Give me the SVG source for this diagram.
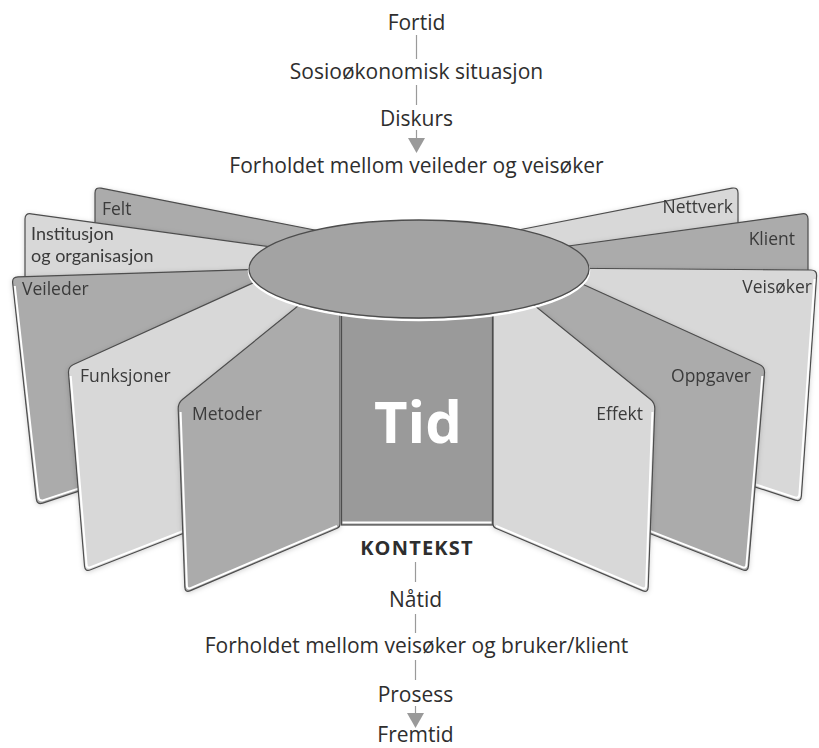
<svg xmlns="http://www.w3.org/2000/svg" width="819" height="748" viewBox="0 0 819 748">
<defs>
<filter id="sh" x="-10%" y="-10%" width="120%" height="120%">
<feDropShadow dx="0" dy="1" stdDeviation="2.5" flood-color="#000" flood-opacity="0.18"/>
</filter>
<style>
.dark{fill:#ababab;stroke:#4d4d4d;stroke-width:1.2;stroke-linejoin:round}
.light{fill:#d8d8d8;stroke:#4d4d4d;stroke-width:1.2;stroke-linejoin:round}
.hl{fill:none;stroke:#ffffff;stroke-width:2;stroke-linejoin:round}
.lbl{font-family:"Open Sans","Noto Sans",sans-serif;font-size:17.5px;fill:#3a3a3a}
.lbl2{font-family:Lato,"Open Sans",sans-serif;font-size:18px;fill:#3a3a3a}
.chain{font-family:"Open Sans","Noto Sans",sans-serif;font-size:21px;fill:#2e2e2e;text-anchor:middle}
.conn{stroke:#9a9a9a;stroke-width:1.2;fill:none}
.arr{fill:#9a9a9a}
</style>
</defs>
<rect width="819" height="748" fill="#ffffff"/>

<g id="felt" filter="url(#sh)">
<path class="dark" d="M101,188.2 L330,233 L330,280 L95,280 L95,193 Q95,187 101,188.2 Z"/>
<text class="lbl" x="102" y="215">Felt</text>
</g>
<g id="nettverk" filter="url(#sh)">
<path class="light" d="M732,188.2 L503,233 L503,280 L738,280 L738,193 Q738,187 732,188.2 Z"/>
<text class="lbl" x="733" y="213" text-anchor="end">Nettverk</text>
</g>
<g id="institusjon" filter="url(#sh)">
<path class="light" d="M31,213.8 L330,255 L330,300 L25,300 L25,219 Q25,213 31,213.8 Z"/>
<text class="lbl2" x="31" y="240">Institusjon</text>
<text class="lbl2" x="31" y="262">og organisasjon</text>
</g>
<g id="klient" filter="url(#sh)">
<path class="dark" d="M802,213.8 L503,255 L503,300 L808,300 L808,219 Q808,213 802,213.8 Z"/>
<text class="lbl" x="795" y="245" text-anchor="end">Klient</text>
</g>
<g id="veileder" filter="url(#sh)">
<path class="dark" d="M18,276.8 L300,268 L300,418 L42.7,503.1 Q37,505 36.3,499 L12.65,283 Q12,277 18,276.8 Z"/>
<path class="hl" d="M14.8,286 L38.3,497 Q39,500.5 42,500.6 L300,415.5"/>
<text class="lbl" x="22" y="295">Veileder</text>
</g>
<g id="veisoker" filter="url(#sh)">
<path class="light" d="M811,270 L533,268 L533,414 L795.3,500.1 Q801,502 801.4,496 L816.6,276 Q817,270 811,270 Z"/>
<path class="hl" d="M814.5,279 L799.4,495 Q799,498 795.8,497.6 L533,411.5"/>
<text class="lbl" x="812" y="293" text-anchor="end">Veisøker</text>
</g>
<g id="funksjoner" filter="url(#sh)">
<path class="light" d="M73.5,364.5 L330,248 L330,476 L90.6,569.8 Q85,572 84.5,566 L68.5,373 Q68,367 73.5,364.5 Z"/>
<path class="hl" d="M70.7,376 L86.6,565 Q87,568 90,567.4 L330,473.5"/>
<text class="lbl" x="80" y="382">Funksjoner</text>
</g>
<g id="oppgaver" filter="url(#sh)">
<path class="dark" d="M759.5,364.5 L503,248 L503,476 L742.4,569.8 Q748,572 748.5,566 L764.5,373 Q765,367 759.5,364.5 Z"/>
<path class="hl" d="M762.3,376 L746.4,565 Q746,568 743,567.4 L503,473.5"/>
<text class="lbl" x="751" y="382" text-anchor="end">Oppgaver</text>
</g>
<g id="metoder" filter="url(#sh)">
<path class="dark" d="M182.7,399.2 L340,272 L340,524 Q340,527 337.2,528.2 L190.5,590.6 Q185,593 184.8,587 L178.2,409 Q178,403 182.7,399.2 Z"/>
<path class="hl" d="M180.6,412 L186.9,586 Q187.4,589 190,588.3 L337,525.8"/>
<text class="lbl" x="192" y="420">Metoder</text>
</g>
<g id="effekt" filter="url(#sh)">
<path class="light" d="M650.3,399.2 L493,272 L493,524 Q493,527 495.8,528.2 L642.5,590.6 Q648,593 648.2,587 L654.8,409 Q655,403 650.3,399.2 Z"/>
<path class="hl" d="M652.4,412 L646.1,586 Q645.6,589 643,588.3 L496,525.8"/>
<text class="lbl" x="643" y="420" text-anchor="end">Effekt</text>
</g>
<g id="tid">
<rect x="341.5" y="260" width="151" height="265" fill="#9a9a9a" stroke="#4d4d4d" stroke-width="1.2"/>
<line x1="342.5" y1="522.5" x2="491.5" y2="522.5" stroke="#ffffff" stroke-width="2"/>
<text x="418" y="443" text-anchor="middle" font-family="'Open Sans','Noto Sans',sans-serif" font-weight="bold" font-size="58" fill="#ffffff">Tid</text>
</g>
<g id="ellipse">
<ellipse cx="419" cy="271" rx="170" ry="49" fill="none" stroke="#ffffff" stroke-width="2.5"/>
<ellipse cx="419" cy="269" rx="170" ry="49" fill="#a3a3a3" stroke="#4d4d4d" stroke-width="1.3"/>
</g>

<g id="connectors">
<line class="conn" x1="416.5" y1="35" x2="416.5" y2="59"/>
<line class="conn" x1="416.5" y1="85" x2="416.5" y2="105"/>
<line class="conn" x1="416.5" y1="130" x2="416.5" y2="139"/>
<polygon class="arr" points="408,138 425,138 416.5,153"/>
<line class="conn" x1="415.5" y1="562" x2="415.5" y2="582"/>
<line class="conn" x1="415.5" y1="614" x2="415.5" y2="633"/>
<line class="conn" x1="415.5" y1="660" x2="415.5" y2="680"/>
<line class="conn" x1="415.5" y1="706" x2="415.5" y2="714"/>
<polygon class="arr" points="407,713 424,713 415.5,728"/>
</g>

<g id="fortid"><text class="chain" x="416.5" y="30">Fortid</text></g>
<g id="sosio"><text class="chain" x="416.5" y="79">Sosioøkonomisk situasjon</text></g>
<g id="diskurs"><text class="chain" x="416.5" y="126">Diskurs</text></g>
<g id="forhold1"><text class="chain" x="416.5" y="173">Forholdet mellom veileder og veisøker</text></g>
<g id="kontekst"><text x="417" y="555" text-anchor="middle" font-family="'Open Sans','Noto Sans',sans-serif" font-weight="bold" font-size="20" letter-spacing="1.2" fill="#2e2e2e">KONTEKST</text></g>
<g id="natid"><text class="chain" x="415.5" y="607">Nåtid</text></g>
<g id="forhold2"><text class="chain" x="416.5" y="653">Forholdet mellom veisøker og bruker/klient</text></g>
<g id="prosess"><text class="chain" x="415.5" y="702">Prosess</text></g>
<g id="fremtid"><text class="chain" x="415.5" y="742">Fremtid</text></g>
</svg>
